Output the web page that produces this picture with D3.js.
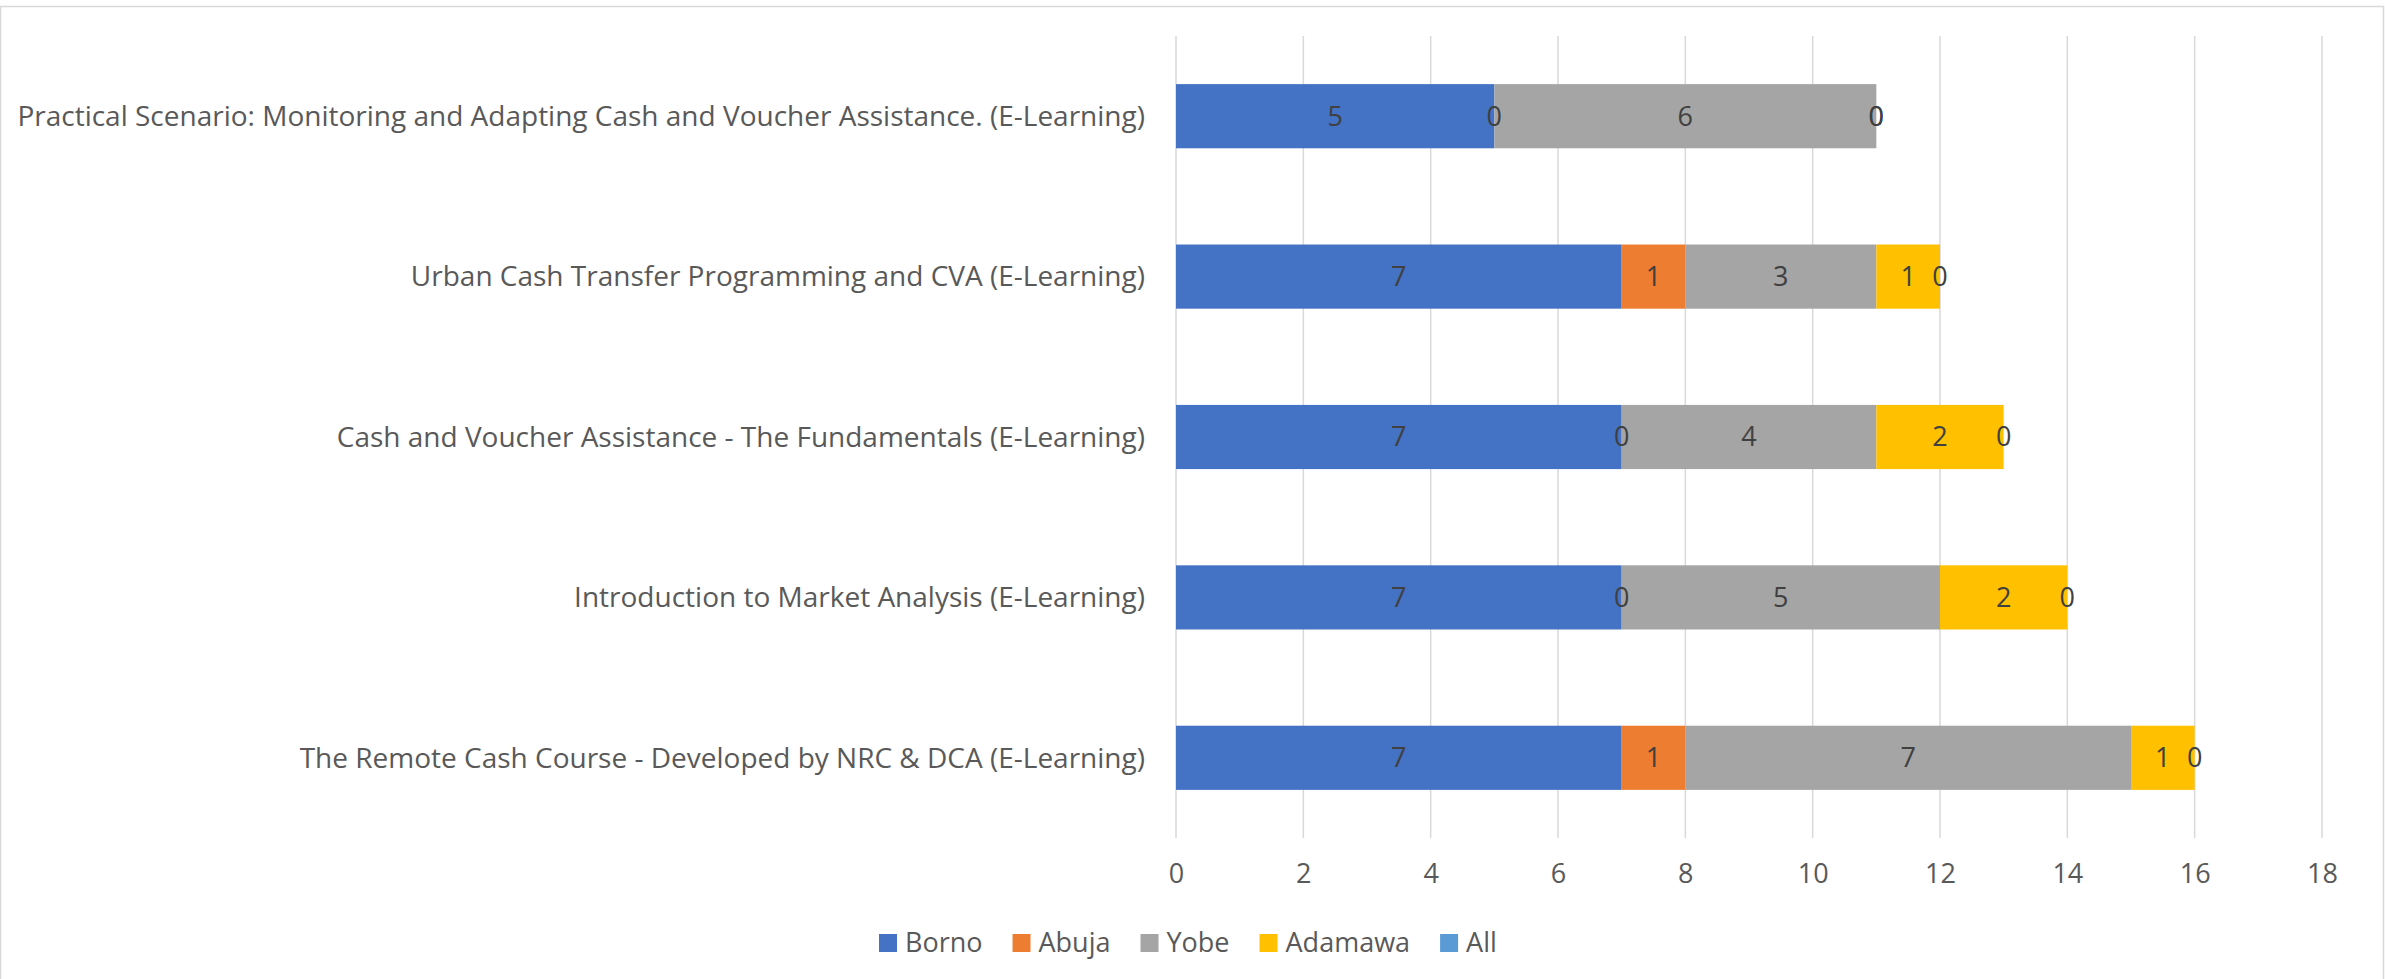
<!DOCTYPE html>
<html>
<head>
<meta charset="utf-8">
<script src="https://cdn.jsdelivr.net/npm/d3@7"></script>
<style>
  body { margin: 0; background: #fff; }
  text { font-family: "Open Sans", sans-serif; }
</style>
</head>
<body>
<div class="chart"></div>
<script>
var courses = [
  "Practical Scenario: Monitoring and Adapting Cash and Voucher Assistance. (E-Learning)",
  "Urban Cash Transfer Programming and CVA (E-Learning)",
  "Cash and Voucher Assistance - The Fundamentals (E-Learning)",
  "Introduction to Market Analysis (E-Learning)",
  "The Remote Cash Course - Developed by NRC & DCA (E-Learning)"
];
var seriesNames = ["Borno", "Abuja", "Yobe", "Adamawa", "All"];
var seriesColors = ["#4472C4", "#ED7D31", "#A5A5A5", "#FFC000", "#5B9BD5"];
var borno   = [5, 7, 7, 7, 7];
var abuja   = [0, 1, 0, 0, 1];
var yobe    = [6, 3, 4, 5, 7];
var adamawa = [0, 1, 2, 2, 1];
var all     = [0, 0, 0, 0, 0];
var xTicks = [0, 2, 4, 6, 8, 10, 12, 14, 16, 18];

var width = 2385, height = 979;
var plotLeft = 1176, plotRight = 2322, plotTop = 36, plotBottom = 838;
var fontSize = "27px";

var rows = courses.map(function(c, i) {
  return {course: c, Borno: borno[i], Abuja: abuja[i], Yobe: yobe[i], Adamawa: adamawa[i], All: all[i]};
});

var layers = d3.stack().keys(seriesNames)(rows);

var x = d3.scaleLinear().domain([0, 18]).range([plotLeft, plotRight]);
var y = d3.scaleBand().domain(courses).range([plotTop, plotBottom]).paddingInner(0.6).paddingOuter(0.3);
var color = d3.scaleOrdinal().domain(seriesNames).range(seriesColors);

var svg = d3.select(".chart")
  .append("svg")
  .attr("width", width)
  .attr("height", height);

// chart border
svg.append("rect")
  .attr("x", 0.5).attr("y", 6.5)
  .attr("width", width - 2).attr("height", height + 20)
  .attr("fill", "#fff")
  .attr("stroke", "#d9d9d9")
  .attr("stroke-width", 1.5);

// gridlines
svg.append("g")
  .selectAll("line")
  .data(xTicks)
  .enter()
  .append("line")
  .attr("x1", function(d) { return x(d); })
  .attr("x2", function(d) { return x(d); })
  .attr("y1", plotTop)
  .attr("y2", plotBottom)
  .attr("stroke", "#d9d9d9")
  .attr("stroke-width", 1.5);

// x axis labels
var xAxis = d3.axisBottom(x).tickValues(xTicks).tickSize(0).tickPadding(0);
var gx = svg.append("g")
  .attr("transform", "translate(0," + (plotBottom + 26) + ")")
  .call(xAxis);
gx.select(".domain").remove();
gx.selectAll("text")
  .attr("fill", "#595959")
  .style("font-size", fontSize)
  .style("font-family", "'Open Sans', sans-serif");

// bars
var layer = svg.selectAll(".layer")
  .data(layers)
  .enter()
  .append("g")
  .attr("class", "layer")
  .attr("fill", function(d) { return color(d.key); });

layer.selectAll("rect")
  .data(function(d) { return d; })
  .enter()
  .append("rect")
  .attr("x", function(d) { return x(d[0]); })
  .attr("y", function(d) { return y(d.data.course); })
  .attr("width", function(d) { return x(d[1]) - x(d[0]); })
  .attr("height", y.bandwidth());

// data labels, drawn on top of all bars
var labelData = [];
layers.forEach(function(l) {
  l.forEach(function(p) { labelData.push({p: p, key: l.key}); });
});
svg.append("g")
  .selectAll("text")
  .data(labelData)
  .enter()
  .append("text")
  .attr("x", function(d) { return x((d.p[0] + d.p[1]) / 2); })
  .attr("y", function(d) { return y(d.p.data.course) + y.bandwidth() / 2; })
  .attr("dy", "0.35em")
  .attr("text-anchor", "middle")
  .attr("fill", "#404040")
  .style("font-size", fontSize)
  .text(function(d) { return d.p.data[d.key]; });

// category labels
svg.append("g")
  .selectAll("text")
  .data(courses)
  .enter()
  .append("text")
  .attr("x", plotLeft - 31)
  .attr("y", function(d) { return y(d) + y.bandwidth() / 2; })
  .attr("dy", "0.35em")
  .attr("text-anchor", "end")
  .attr("fill", "#595959")
  .style("font-size", "28px")
  .text(function(d) { return d; });

// legend
var legend = svg.append("g").attr("transform", "translate(0,943)");
var lx = 879;
seriesNames.forEach(function(name, i) {
  var item = legend.append("g").attr("transform", "translate(" + lx + ",0)");
  item.append("rect")
    .attr("x", 0).attr("y", -9)
    .attr("width", 18).attr("height", 18)
    .attr("fill", seriesColors[i]);
  var t = item.append("text")
    .attr("x", 26)
    .attr("dy", "0.35em")
    .attr("fill", "#595959")
    .style("font-size", fontSize)
    .text(name);
  lx += 26 + t.node().getComputedTextLength() + 30;
});
</script>
</body>
</html>
